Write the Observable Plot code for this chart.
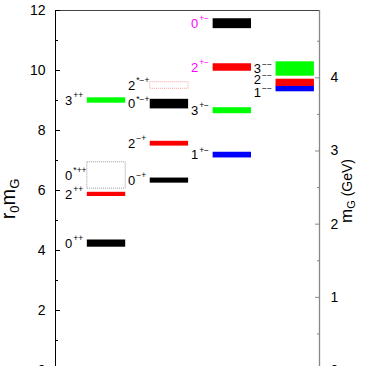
<!DOCTYPE html>
<html><head><meta charset="utf-8">
<script src="https://cdn.jsdelivr.net/npm/d3@7"></script>
<script src="https://cdn.jsdelivr.net/npm/@observablehq/plot@0.6"></script>
<style>html,body{margin:0;padding:0;overflow:hidden;background:#fff}</style>
</head><body><div id="chart"></div>
<script>
// Glueball spectrum (r0 mG), Morningstar–Peardon style
const column  = [1, 1, 1, 1, 2, 2, 2, 2, 3, 3, 3, 3, 4, 4, 4];
const spinJ   = [0, 2, 0, 3, 0, 2, 0, 2, 1, 3, 2, 0, 1, 2, 3];
const pcLabel = ["++", "++", "*++", "++", "−+", "−+", "*−+", "*−+", "+−", "+−", "+−", "+−", "−−", "−−", "−−"];
const excited = [false, false, true, false, false, false, false, true, false, false, false, false, false, false, false];
const exotic  = [false, false, false, false, false, false, false, false, false, false, true, true, false, false, false];
const massR0  = [4.23, 5.87, 6.50, 9.00, 6.33, 7.56, 8.88, 9.50, 7.18, 8.66, 10.10, 11.56, 9.39, 9.59, 10.05];
const errR0   = [0.12, 0.07, 0.44, 0.09, 0.085, 0.08, 0.16, 0.11, 0.095, 0.10, 0.125, 0.165, 0.10, 0.12, 0.24];
const r0inv = 0.410;                       // GeV
const leftTicks = [0, 2, 4, 6, 8, 10, 12];
const leftMinor = [1, 3, 5, 7, 9, 11];
const gevTicks = [0, 1, 2, 3, 4];
const gevMinor = [0.5, 1.5, 2.5, 3.5, 4.5];

const rows = massR0.map((m, i) => ({
  col: column[i], J: spinJ[i], pc: pcLabel[i], star: excited[i], exotic: exotic[i], m, e: errR0[i]
}));

const spinColor = ["#000000", "#0000ff", "#ff0000", "#00ff00"];
const lightColor = ["#9a9a9a", "#8080ff", "#f4a0a0", "#80ff80"];
const hw = 0.305;
const nudge = {"4-2": 0.1, "4-1": -0.14};
const ly = d => d.m + (nudge[d.col + "-" + d.J] || 0);
const xmin = 0.189, xmax = 4.386;

const chart = Plot.plot({
  width: 366, height: 390,
  marginLeft: 55, marginRight: 47, marginTop: 10, marginBottom: 20,
  style: {fontFamily: "'Liberation Sans', Arial, Helvetica, sans-serif", background: "#fff"},
  x: {domain: [xmin, xmax], axis: null},
  y: {domain: [0, 12], axis: null},
  color: {type: "identity"},
  marks: [
    Plot.rect(rows.filter(d => !d.star), {x1: d => d.col - hw, x2: d => d.col + hw, y1: d => d.m - d.e, y2: d => d.m + d.e, fill: d => spinColor[d.J]}),
    Plot.rect(rows.filter(d => d.star), {x1: d => d.col - hw, x2: d => d.col + hw, y1: d => d.m - d.e, y2: d => d.m + d.e, fill: "none", stroke: d => lightColor[d.J], strokeDasharray: "1,1", strokeWidth: 1}),
    Plot.text(rows, {x: d => d.col - hw, y: ly, text: d => String(d.J), textAnchor: "end", dx: -15, fontSize: 13, fill: d => d.exotic ? "#ff00ff" : "#000000"}),
    Plot.text(rows, {x: d => d.col - hw, y: ly, text: "pc", textAnchor: "start", dx: -14, dy: -5, fontSize: 8.5, fill: d => d.exotic ? "#ff00ff" : "#000000"}),
    Plot.ruleY([12], {x1: xmin, x2: xmax, stroke: "#444"}),
    Plot.ruleX([xmin], {y1: 0, y2: 12, stroke: "#000"}),
    Plot.ruleX([xmax], {y1: 0, y2: 12, stroke: "#888", strokeWidth: 1.3}),
    Plot.axisY({anchor: "left", ticks: leftTicks, tickSize: -5, tickPadding: 15, fontSize: 14, label: null, tickFormat: d => d, color: "#000"}),
    Plot.axisY({anchor: "left", ticks: leftMinor, tickSize: -3, label: null, tickFormat: () => ""}),
    Plot.axisY({anchor: "right", ticks: gevTicks.map(g => g / r0inv), tickSize: -5, tickPadding: 16, fontSize: 14, label: null, tickFormat: d => Math.round(d * r0inv), stroke: "#888", fill: "#000"}),
    Plot.axisY({anchor: "right", ticks: gevMinor.map(g => g / r0inv), tickSize: -3, label: null, tickFormat: () => "", stroke: "#888"})
  ]
});
document.getElementById("chart").appendChild(chart);

const svg = d3.select(chart);
const ff = "'Liberation Sans', Arial, Helvetica, sans-serif";
const lt = svg.append("text").attr("transform", "translate(15,199) rotate(-90)")
  .attr("text-anchor", "middle").attr("font-family", ff).attr("font-size", 20).attr("fill", "#000");
lt.append("tspan").text("r");
lt.append("tspan").attr("font-size", 13).attr("dy", 4).text("0");
lt.append("tspan").attr("dy", -4).text("m");
lt.append("tspan").attr("font-size", 13).attr("dy", 4).text("G");

const rt = svg.append("text").attr("transform", "translate(352,191) rotate(-90)")
  .attr("text-anchor", "middle").attr("font-family", ff).attr("font-size", 17).attr("fill", "#000");
rt.append("tspan").text("m");
rt.append("tspan").attr("font-size", 11).attr("dy", 3).text("G");
rt.append("tspan").attr("font-size", 14).attr("dy", -3).text(" (GeV)");
</script></body></html>
